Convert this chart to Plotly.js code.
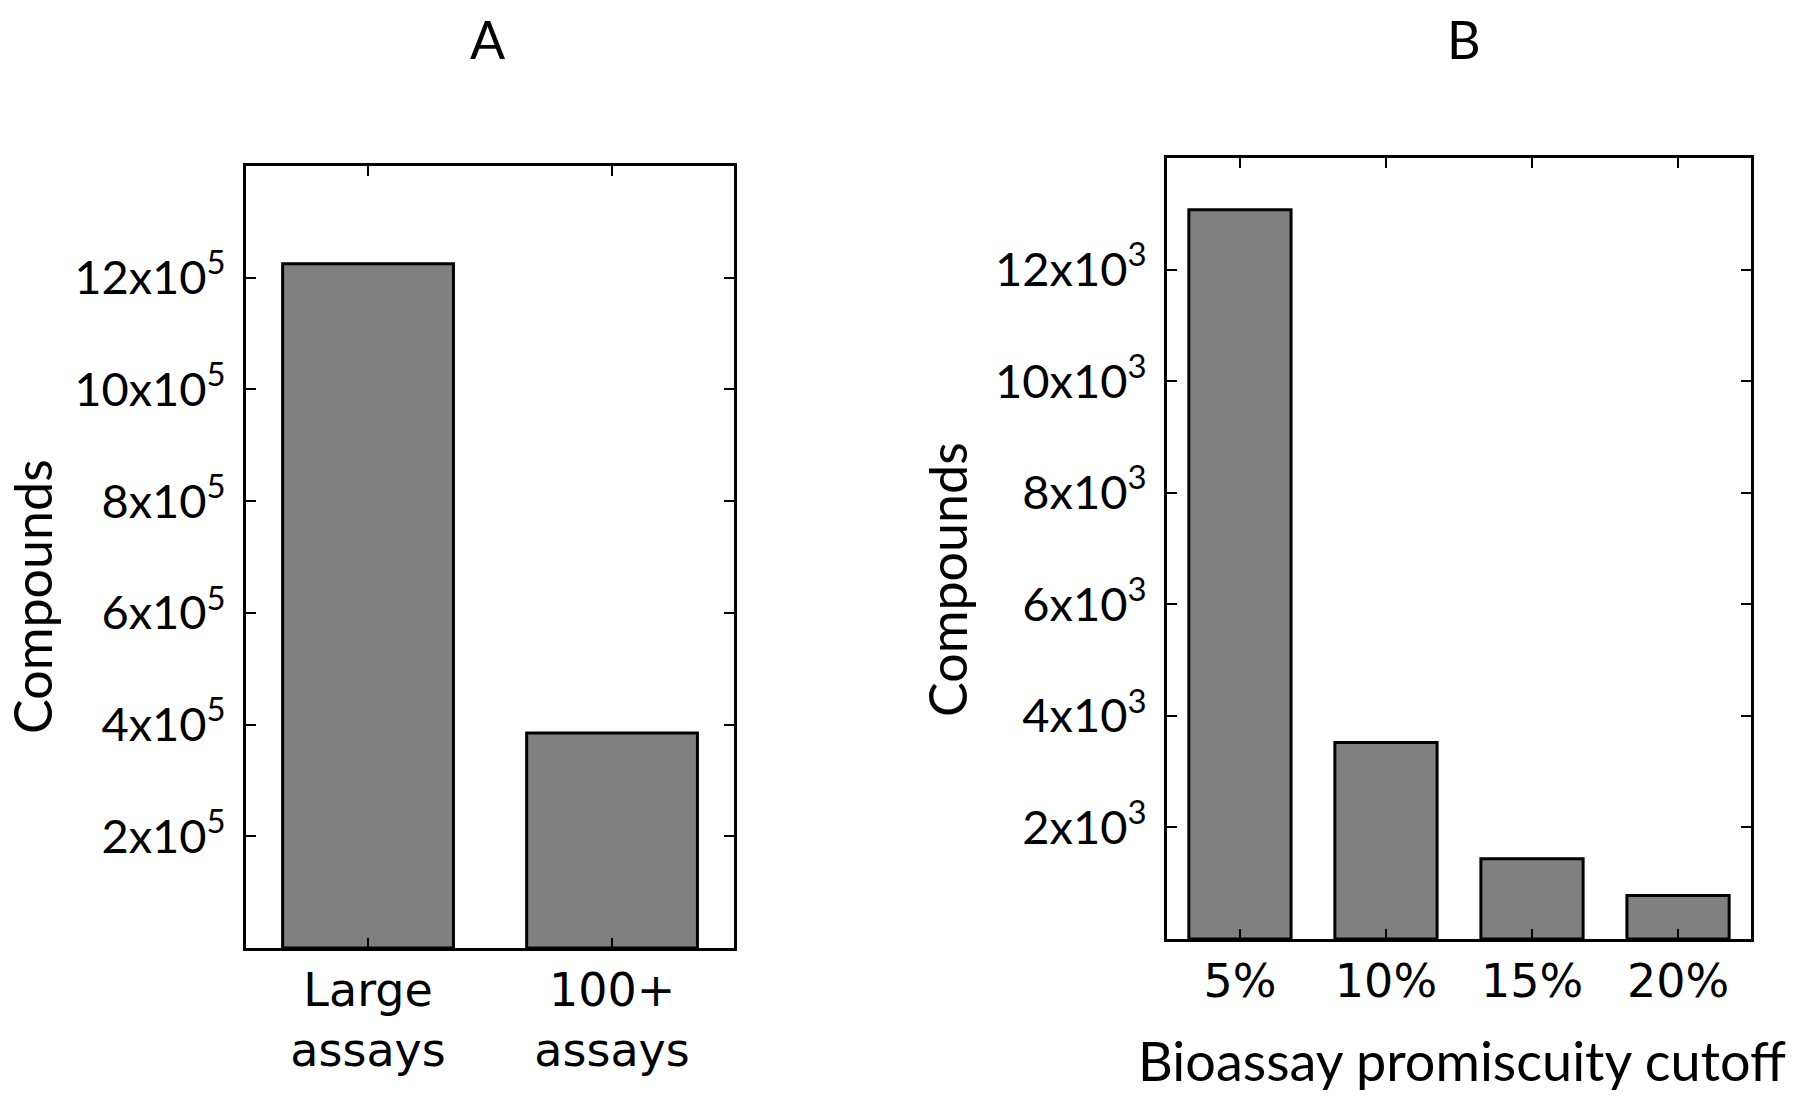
<!DOCTYPE html>
<html>
<head>
<meta charset="utf-8">
<script src="https://cdn.plot.ly/plotly-3.0.1.min.js"></script>
<style>
html,body{margin:0;padding:0;background:#fff;}
#chart{width:1800px;height:1100px;}
</style>
</head>
<body>
<div id="chart"></div>
<script>
// Panel A
const catsA = ['Large<br>assays', '100+<br>assays'];
const valsA = [1225000, 385000];
const tickValsA = [200000, 400000, 600000, 800000, 1000000, 1200000];
const tickTextA = ['2x10<sup>5</sup>', '4x10<sup>5</sup>', '6x10<sup>5</sup>', '8x10<sup>5</sup>', '10x10<sup>5</sup>', '12x10<sup>5</sup>'];

// Panel B
const catsB = ['5%', '10%', '15%', '20%'];
const valsB = [13070, 3520, 1440, 780];
const tickValsB = [2000, 4000, 6000, 8000, 10000, 12000];
const tickTextB = ['2x10<sup>3</sup>', '4x10<sup>3</sup>', '6x10<sup>3</sup>', '8x10<sup>3</sup>', '10x10<sup>3</sup>', '12x10<sup>3</sup>'];

const titleA = 'A';
const titleB = 'B';
const yTitle = 'Compounds';
const xTitleB = 'Bioassay promiscuity cutoff';

const barStyle = {color: '#808080', line: {color: '#000', width: 3}};

const traces = [
  {type: 'bar', x: catsA, y: valsA, width: 0.7, marker: barStyle, xaxis: 'x', yaxis: 'y', hoverinfo: 'x+y'},
  {type: 'bar', x: catsB, y: valsB, width: 0.7, marker: barStyle, xaxis: 'x2', yaxis: 'y2', hoverinfo: 'x+y'}
];

const tickFontY = {family: 'Lato, "Open Sans", sans-serif', size: 47, color: '#000'};
const tickFontX = {family: '"DejaVu Sans", sans-serif', size: 46, color: '#000'};
const titleFont = {family: 'Lato, "Open Sans", sans-serif', size: 52, color: '#000'};
const xTitleFont = {family: 'Lato, "Open Sans", sans-serif', size: 54, color: '#000'};

function xAxis(domain, anchor, n) {
  return {
    domain: domain, anchor: anchor, type: 'category',
    range: [-0.5, n - 0.5],
    showline: true, linecolor: '#000', linewidth: 3, mirror: 'ticks',
    ticks: 'inside', ticklen: 10, tickwidth: 2, tickcolor: '#000',
    showgrid: false, zeroline: false,
    tickfont: tickFontX, fixedrange: true
  };
}
function yAxis(domain, anchor, tv, tt, top) {
  return {
    domain: domain, anchor: anchor,
    range: [0, top],
    tickvals: tv, ticktext: tt,
    showline: true, linecolor: '#000', linewidth: 3, mirror: 'ticks',
    ticks: 'inside', ticklen: 10, tickwidth: 2, tickcolor: '#000',
    showgrid: false, zeroline: false,
    tickfont: tickFontY, ticklabelstandoff: 8, fixedrange: true
  };
}

const layout = {
  width: 1800, height: 1100,
  margin: {l: 0, r: 0, t: 0, b: 0},
  paper_bgcolor: '#fff', plot_bgcolor: '#fff',
  showlegend: false, bargap: 0.3,
  xaxis: xAxis([0.1367, 0.4078], 'y', catsA.length),
  yaxis: yAxis([0.1382, 0.8491], 'x', tickValsA, tickTextA, 1400000),
  xaxis2: xAxis([0.6483, 0.9728], 'y2', catsB.length),
  yaxis2: yAxis([0.1464, 0.8564], 'x2', tickValsB, tickTextB, 14000),
  annotations: [
    {text: titleA, xref: 'paper', yref: 'paper', x: 488/1800, y: 1 - 39/1100, xanchor: 'center', yanchor: 'middle', showarrow: false, font: titleFont},
    {text: titleB, xref: 'paper', yref: 'paper', x: 1464/1800, y: 1 - 39/1100, xanchor: 'center', yanchor: 'middle', showarrow: false, font: titleFont},
    {text: yTitle, xref: 'paper', yref: 'paper', x: 32/1800, y: 1 - 597/1100, xanchor: 'center', yanchor: 'middle', textangle: -90, showarrow: false, font: titleFont},
    {text: yTitle, xref: 'paper', yref: 'paper', x: 947/1800, y: 1 - 580/1100, xanchor: 'center', yanchor: 'middle', textangle: -90, showarrow: false, font: titleFont},
    {text: xTitleB, xref: 'paper', yref: 'paper', x: 1462/1800, y: 1 - 1060/1100, xanchor: 'center', yanchor: 'middle', showarrow: false, font: xTitleFont}
  ]
};

Plotly.newPlot('chart', traces, layout, {displayModeBar: false, staticPlot: true});
</script>
</body>
</html>
